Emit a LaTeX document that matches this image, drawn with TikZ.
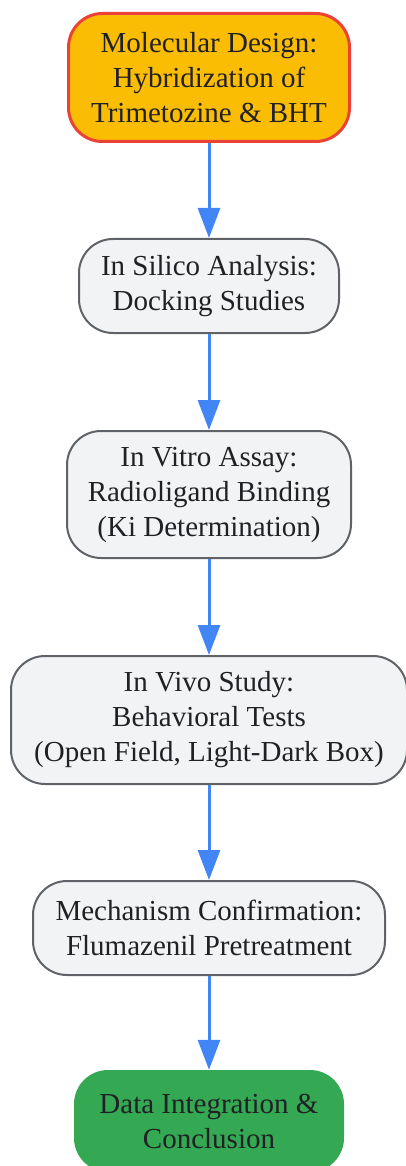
\documentclass[tikz,border=0pt]{standalone}
\usepackage{fontspec}
\setmainfont{Liberation Serif}
\usetikzlibrary{arrows.meta}
\definecolor{designfill}{HTML}{FBBC04}
\definecolor{designline}{HTML}{EA4335}
\definecolor{stagefill}{HTML}{F1F3F4}
\definecolor{stageline}{HTML}{5F6368}
\definecolor{flowblue}{HTML}{4285F4}
\definecolor{donefill}{HTML}{34A853}
\definecolor{inktext}{HTML}{202124}
\tikzset{
  box/.style={rounded corners=34pt, align=center, text=inktext, inner sep=0pt,
    font=\fontsize{29}{35}\selectfont},
  stage/.style={box, draw=stageline, line width=2pt, fill=stagefill},
  flow/.style={draw=flowblue, line width=3pt, -{Triangle[length=30pt,width=22pt]}}
}

\begin{document}
\begin{tikzpicture}[x=1pt,y=1pt]
  \useasboundingbox (0,0) rectangle (406,-1166);
  % the six steps, top to bottom
  \node[box, draw=designline, line width=3pt, fill=designfill,
        minimum width=281pt, minimum height=128pt] (design) at (209,-77.5)
        {Molecular Design:\\Hybridization of\\Trimetozine \& BHT};
  \node[stage, minimum width=260pt, minimum height=94pt] (silico) at (209,-286)
        {In Silico Analysis:\\Docking Studies};
  \node[stage, minimum width=284pt, minimum height=127pt] (vitro) at (209,-494.5)
        {In Vitro Assay:\\Radioligand Binding\\(Ki Determination)};
  \node[stage, minimum width=396pt, minimum height=128pt] (vivo) at (209,-720)
        {In Vivo Study:\\Behavioral Tests\\(Open Field, Light-Dark Box)};
  \node[stage, minimum width=352pt, minimum height=94pt] (mechanism) at (209,-928)
        {Mechanism Confirmation:\\Flumazenil Pretreatment};
  \node[box, fill=donefill, minimum width=270pt, minimum height=102pt] (data) at (209,-1121)
        {Data Integration \&\\Conclusion};
  % arrows
  \draw[flow] (design) -- (silico);
  \draw[flow] (silico) -- (vitro);
  \draw[flow] (vitro) -- (vivo);
  \draw[flow] (vivo) -- (mechanism);
  \draw[flow] (mechanism) -- (data);
\end{tikzpicture}
\end{document}
